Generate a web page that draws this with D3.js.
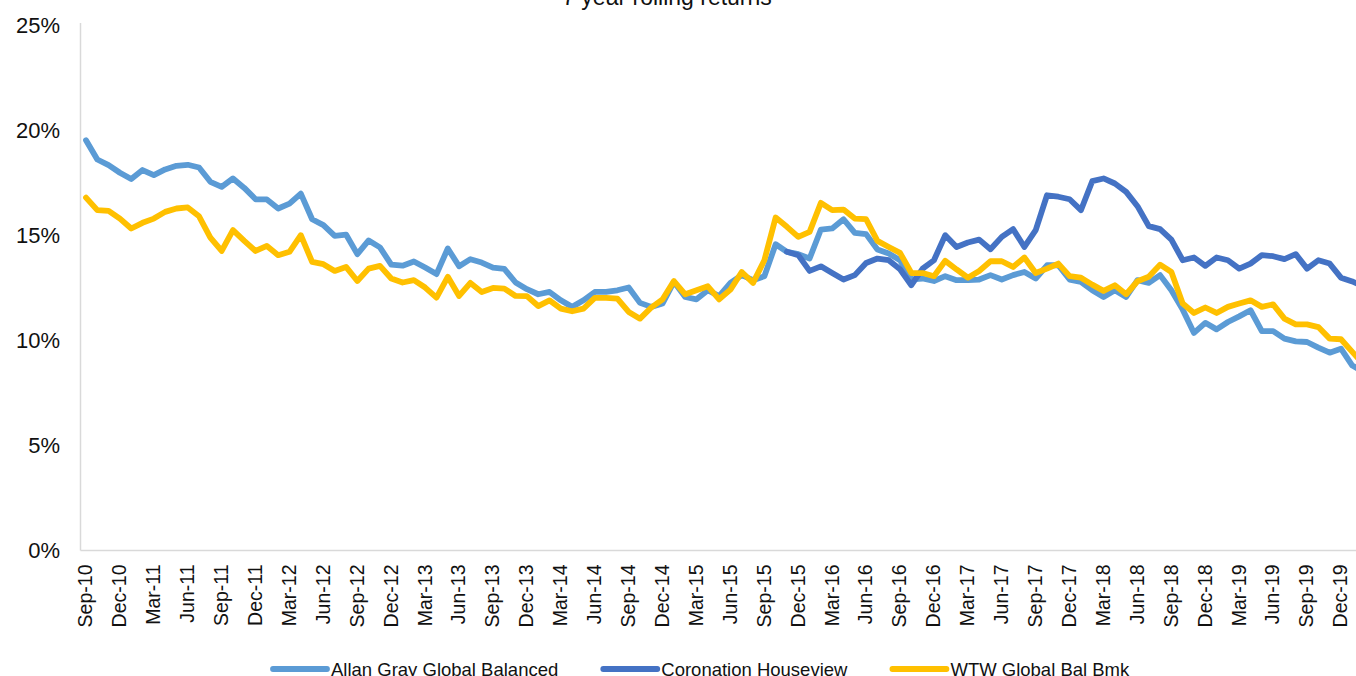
<!DOCTYPE html>
<html>
<head>
<meta charset="utf-8">
<script src="https://cdnjs.cloudflare.com/ajax/libs/d3/7.8.5/d3.min.js"></script>
<style>
  body { margin: 0; background: #fff; overflow: hidden; }
  svg { display: block; font-family: "Liberation Sans", Arial, sans-serif; }
</style>
</head>
<body>
<script>
// monthly categories, Sep-10 .. Feb-20 (last two months sit past the cropped edge)
const fmtMonth = d3.timeFormat("%b-%y")
const months = d3.timeMonth.range(new Date(2010, 8, 1), new Date(2020, 2, 1)).map(fmtMonth)

// 7 year rolling returns, % p.a.
const allanGray = [
  19.52, 18.6, 18.33, 17.97, 17.67, 18.1, 17.86, 18.13, 18.3, 18.35, 18.22, 17.54,
  17.3, 17.7, 17.25, 16.71, 16.7, 16.27, 16.5, 16.98, 15.76, 15.48, 14.97, 15.03,
  14.1, 14.75, 14.42, 13.6, 13.55, 13.75, 13.46, 13.15, 14.37, 13.52, 13.86, 13.7,
  13.46, 13.4, 12.75, 12.43, 12.19, 12.3, 11.9, 11.59, 11.9, 12.3, 12.3, 12.38,
  12.51, 11.78, 11.59, 11.75, 12.78, 12.06, 11.95, 12.38, 12.1, 12.73, 13.1, 12.86,
  13.05, 14.57, 14.21, 14.1, 13.89, 15.27, 15.32, 15.76, 15.11, 15.05, 14.32, 14.13,
  13.81, 12.9, 12.94, 12.82, 13.05, 12.86, 12.86, 12.89, 13.1, 12.89, 13.1, 13.25,
  12.94, 13.57, 13.57, 12.89, 12.78, 12.38, 12.06, 12.38, 12.06, 12.86, 12.73, 13.1,
  12.38, 11.46, 10.35, 10.83, 10.52, 10.87, 11.14, 11.43, 10.44, 10.44, 10.08, 9.95,
  9.92, 9.65, 9.41, 9.6, 8.8, 8.5
]

const coronation = [
  null, null, null, null, null, null, null, null, null, null, null, null,
  null, null, null, null, null, null, null, null, null, null, null, null,
  null, null, null, null, null, null, null, null, null, null, null, null,
  null, null, null, null, null, null, null, null, null, null, null, null,
  null, null, null, null, null, null, null, null, null, null, null, null,
  null, null, 14.21, 14.05, 13.3, 13.52, 13.2, 12.89, 13.1, 13.68, 13.89, 13.81,
  13.38, 12.62, 13.41, 13.81, 15.0, 14.44, 14.65, 14.79, 14.33, 14.92, 15.29, 14.44,
  15.24, 16.9, 16.83, 16.71, 16.19, 17.57, 17.7, 17.46, 17.06, 16.38, 15.43, 15.29,
  14.79, 13.81, 13.94, 13.54, 13.94, 13.81, 13.41, 13.65, 14.05, 14.0, 13.86, 14.1,
  13.41, 13.81, 13.65, 12.98, 12.8, 12.55
]

const wtw = [
  16.79, 16.19, 16.16, 15.79, 15.32, 15.59, 15.79, 16.11, 16.27, 16.32, 15.9, 14.89,
  14.25, 15.24, 14.73, 14.25, 14.49, 14.05, 14.21, 15.0, 13.73, 13.62, 13.3, 13.49,
  12.82, 13.41, 13.54, 12.94, 12.75, 12.86, 12.51, 12.03, 13.02, 12.11, 12.73, 12.3,
  12.49, 12.46, 12.11, 12.1, 11.63, 11.9, 11.51, 11.38, 11.51, 12.02, 12.02, 11.98,
  11.35, 11.03, 11.56, 11.95, 12.82, 12.19, 12.38, 12.57, 11.95, 12.41, 13.25, 12.73,
  13.81, 15.84, 15.4, 14.92, 15.16, 16.54, 16.19, 16.22, 15.79, 15.76, 14.73, 14.44,
  14.16, 13.2, 13.2, 13.05, 13.78, 13.37, 12.98, 13.3, 13.76, 13.76, 13.49, 13.94,
  13.2, 13.41, 13.65, 13.05, 12.98, 12.65, 12.35, 12.62, 12.19, 12.81, 13.02, 13.6,
  13.25, 11.75, 11.3, 11.56, 11.3, 11.59, 11.75, 11.9, 11.59, 11.71, 11.03, 10.76,
  10.76, 10.63, 10.08, 10.05, 9.45, 8.85
]

const seriesNames = ["Allan Gray Global Balanced", "Coronation Houseview", "WTW Global Bal Bmk"]
const seriesColors = ["#5b9bd5", "#4472c4", "#ffc000"]
const yTicks = [0, 5, 10, 15, 20, 25]
const tickLabels = months.filter((m, i) => i % 3 === 0 && i <= 111)

const width = 1356
const height = 676
const monthStep = 11.306

const svg = d3.select("body").append("svg")
    .attr("width", width)
    .attr("height", height)

let x = d3.scalePoint()
    .domain(months)
    .range([86, 86 + monthStep * (months.length - 1)])

let y = d3.scaleLinear()
    .domain([0, 25])
    .range([550.5, 25])

// title (mostly cut off at the top edge, like the original)
svg.append("text")
    .attr("x", 667)
    .attr("y", 5)
    .attr("text-anchor", "middle")
    .attr("font-size", 23)
    .attr("fill", "#111")
    .text("7 year rolling returns")

// axis lines
svg.append("line")
    .attr("x1", 80.5).attr("x2", 80.5)
    .attr("y1", y(25) - 2).attr("y2", y(0))
    .attr("stroke", "#d9d9d9").attr("stroke-width", 1.5)
svg.append("line")
    .attr("x1", 80.5).attr("x2", width)
    .attr("y1", y(0)).attr("y2", y(0))
    .attr("stroke", "#d9d9d9").attr("stroke-width", 1.5)

// y labels
let yAxis = svg.append("g")
    .attr("transform", "translate(60,0)")
    .call(d3.axisLeft(y).tickValues(yTicks).tickSize(0).tickPadding(0).tickFormat(d => d + "%"))
yAxis.select(".domain").remove()
yAxis.selectAll("text")
    .attr("font-size", 22)
    .attr("font-family", "Liberation Sans, Arial, sans-serif")
    .attr("fill", "#111")

// x labels, rotated
let xAxis = svg.append("g")
    .attr("transform", "translate(0," + y(0) + ")")
    .call(d3.axisBottom(x).tickValues(tickLabels).tickSize(0))
xAxis.select(".domain").remove()
xAxis.selectAll("text")
    .attr("font-size", 19.5)
    .attr("font-family", "Liberation Sans, Arial, sans-serif")
    .attr("fill", "#111")
    .attr("text-anchor", "end")
    .attr("transform", "rotate(-90)")
    .attr("x", -14)
    .attr("y", 0)
    .attr("dy", "0.3em")

// series lines
const allSeries = [allanGray, coronation, wtw]
let line = d3.line()
    .defined(d => d.v != null)
    .x(d => x(d.m))
    .y(d => y(d.v))

svg.append("g").selectAll("path")
    .data(allSeries)
    .enter()
    .append("path")
        .attr("d", s => line(s.map((v, i) => ({ m: months[i], v: v }))))
        .attr("fill", "none")
        .attr("stroke", (s, i) => seriesColors[i])
        .attr("stroke-width", 5.8)
        .attr("stroke-linejoin", "round")
        .attr("stroke-linecap", "round")

// legend along the bottom edge
let legend = svg.append("g").attr("transform", "translate(273,669)")
let lx = 0
seriesNames.forEach((name, i) => {
    let item = legend.append("g").attr("transform", "translate(" + lx + ",0)")
    item.append("line")
        .attr("x1", 0).attr("x2", 54)
        .attr("stroke", seriesColors[i])
        .attr("stroke-width", 5.8)
        .attr("stroke-linecap", "round")
    let t = item.append("text")
        .attr("x", 58)
        .attr("y", 6.5)
        .attr("font-size", 18.5)
        .attr("fill", "#111")
        .text(name)
    lx += 58 + t.node().getComputedTextLength() + 45
})
</script>
</body>
</html>
